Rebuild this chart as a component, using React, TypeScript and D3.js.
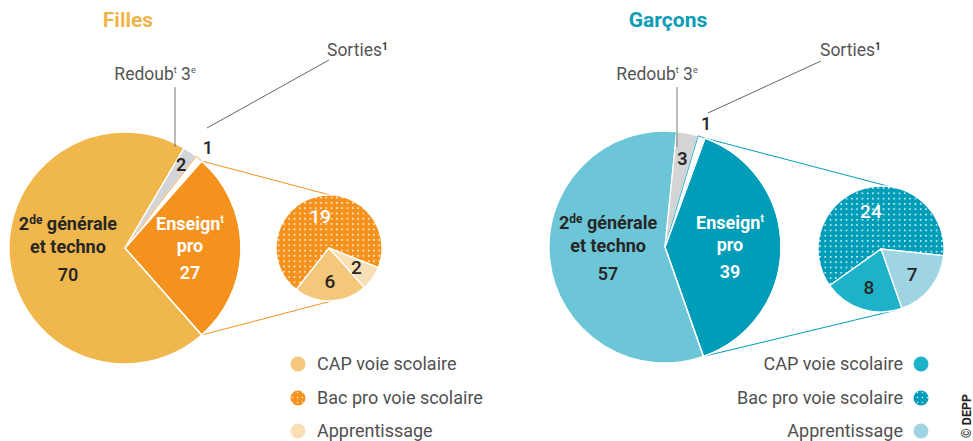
import React from "react";
import * as d3 from "d3";

const mainCats = ["2de générale et techno", "Redoublement 3e", "Sorties", "Enseignement pro"];
const fillesMain = [70, 2, 1, 27];
const garconsMain = [57, 3, 1, 39];
const subCats = ["Bac pro voie scolaire", "Apprentissage", "CAP voie scolaire"];
const fillesSub = [19, 2, 6];
const garconsSub = [24, 7, 8];
const legendLabels = ["CAP voie scolaire", "Bac pro voie scolaire", "Apprentissage"];

const FONT = "Roboto, 'Noto Sans', sans-serif";
const deg = (d: number) => (d * Math.PI) / 180;
const polar = (cx: number, cy: number, r: number, a: number): [number, number] => [
  cx + r * Math.sin(a),
  cy - r * Math.cos(a),
];

type Cfg = {
  id: string;
  title: string;
  titleX: number;
  titleColor: string;
  main: number[];
  sub: number[];
  cx: number;
  cy: number;
  r: number;
  start: number;
  scx: number;
  scy: number;
  sr: number;
  sstart: number;
  lineTop: number;
  lineBot: number;
  mainColors: string[];
  subColors: string[];
  redoubX: number;
  redoubLine: [number, number, number];
  sortiesX: number;
  sortiesLine: [number, number, number, number];
  grayR: number;
  legendAlign: "left" | "right";
  legendX: number;
};

function Panel({ c }: { c: Cfg }) {
  const pie = d3
    .pie<number>()
    .sort(null)
    .value((d) => d)
    .startAngle(deg(c.start))
    .endAngle(deg(c.start) + 2 * Math.PI);
  const arcs = pie(c.main);
  const arc = d3.arc<d3.PieArcDatum<number>>().innerRadius(0).outerRadius(c.r);
  const spie = d3
    .pie<number>()
    .sort(null)
    .value((d) => d)
    .startAngle(deg(c.sstart))
    .endAngle(deg(c.sstart) + 2 * Math.PI);
  const sarcs = spie(c.sub);
  const sarc = d3.arc<d3.PieArcDatum<number>>().innerRadius(0).outerRadius(c.sr);
  const pro = arcs[3];
  const p1 = polar(c.cx, c.cy, c.r, pro.startAngle);
  const p2 = polar(c.cx, c.cy, c.r, pro.endAngle);
  const q1 = polar(c.scx, c.scy, c.sr, deg(c.lineTop));
  const q2 = polar(c.scx, c.scy, c.sr, deg(c.lineBot));
  const mid = (a: d3.PieArcDatum<number>) => (a.startAngle + a.endAngle) / 2;

  const gen = arcs[0];
  const [gx0, gy] = polar(c.cx, c.cy, c.r * 0.52, mid(gen));
  const gx = gx0 + 3;
  const [px, py] = polar(c.cx, c.cy, c.r * 0.56, mid(pro));
  const [rx, ry] = polar(c.cx, c.cy, c.grayR, mid(arcs[1]));
  const [sx, sy] = polar(c.cx, c.cy, c.r * 1.12, mid(arcs[2]));
  const dark = "#262626";
  const legColors = [c.subColors[2], c.subColors[0], c.subColors[1]];
  const legY = [364, 398, 431];

  return (
    <g>
      <defs>
        <pattern id={"dots" + c.id} width={5.3} height={5.3} patternUnits="userSpaceOnUse">
          <rect width={5.3} height={5.3} fill={c.subColors[0]} />
          <rect x={1.8} y={1.8} width={1.5} height={1.5} fill="#fff" />
        </pattern>
        <pattern id={"ldots" + c.id} width={5} height={5} patternUnits="userSpaceOnUse">
          <rect width={5} height={5} fill={c.subColors[0]} />
          <rect x={1.8} y={1.8} width={1.4} height={1.4} fill="#fff" opacity={0.8} />
        </pattern>
      </defs>
      <text x={c.titleX} y={27} textAnchor="middle" fontFamily={FONT} fontWeight={700} fontSize={21} fill={c.titleColor}>
        {c.title}
      </text>
      {/* connector lines */}
      <line x1={p1[0]} y1={p1[1]} x2={q1[0]} y2={q1[1]} stroke={c.mainColors[3]} strokeWidth={1} />
      <line x1={p2[0]} y1={p2[1]} x2={q2[0]} y2={q2[1]} stroke={c.mainColors[3]} strokeWidth={1} />
      {/* main pie */}
      <g transform={`translate(${c.cx},${c.cy})`}>
        {arcs.map((a, i) => (
          <path
            key={mainCats[i]}
            d={arc(a) || ""}
            fill={c.mainColors[i]}
            stroke={i === 2 ? c.mainColors[3] : "#fff"}
            strokeWidth={i === 2 ? 0.8 : 1.3}
          />
        ))}
        <path d={arc(pro) || ""} fill="none" stroke="#fff" strokeWidth={1.3} />
      </g>
      {/* main labels */}
      <text fontFamily={FONT} fontWeight={700} fontSize={18} fill={dark} textAnchor="middle">
        <tspan x={gx} y={c.cy - 18}>
          2<tspan fontSize={12} dy={-6}>de</tspan>
          <tspan dy={6}> générale</tspan>
        </tspan>
        <tspan x={gx} y={c.cy + 5}>et techno</tspan>
        <tspan x={gx} y={c.cy + 33} fontWeight={600}>{c.main[0]}</tspan>
      </text>
      <text fontFamily={FONT} fontWeight={700} fontSize={18} fill="#fff" textAnchor="middle">
        <tspan x={px} y={py - 18}>
          Enseign<tspan fontSize={10} dy={-7}>t</tspan>
        </tspan>
        <tspan x={px} y={py + 4}>pro</tspan>
        <tspan x={px} y={py + 31} fontWeight={600}>{c.main[3]}</tspan>
      </text>
      <text x={rx} y={ry + 6} textAnchor="middle" fontFamily={FONT} fontWeight={600} fontSize={18} fill={dark}>
        {c.main[1]}
      </text>
      <text x={sx} y={sy + 6} textAnchor="middle" fontFamily={FONT} fontWeight={500} fontSize={18} fill={dark}>
        {c.main[2]}
      </text>
      {/* annotations */}
      <line x1={c.redoubLine[0]} y1={c.redoubLine[1]} x2={c.redoubLine[0]} y2={c.redoubLine[2]} stroke="#777" strokeWidth={1} />
      <text x={c.redoubX} y={80} textAnchor="middle" fontFamily={FONT} fontSize={17.5} fill="#555">
        Redoub<tspan fontSize={9} dy={-7}>t</tspan>
        <tspan dy={7}> 3</tspan>
        <tspan fontSize={9} dy={-7}>e</tspan>
      </text>
      <line
        x1={c.sortiesLine[0]}
        y1={c.sortiesLine[1]}
        x2={c.sortiesLine[2]}
        y2={c.sortiesLine[3]}
        stroke="#666"
        strokeWidth={1}
      />
      <text x={c.sortiesX} y={56} fontFamily={FONT} fontSize={17.5} fill="#555">
        Sorties<tspan fontSize={10} fontWeight={700} fill="#333" dy={-6}>1</tspan>
      </text>
      {/* sub pie */}
      <g transform={`translate(${c.scx},${c.scy})`}>
        {sarcs.map((a, i) => (
          <path
            key={subCats[i]}
            d={sarc(a) || ""}
            fill={i === 0 ? `url(#dots${c.id})` : c.subColors[i]}
            stroke="#fff"
            strokeWidth={1.3}
          />
        ))}
      </g>
      {sarcs.map((a, i) => {
        const [lx, ly] = polar(c.scx, c.scy, c.sr * 0.63, mid(a));
        return (
          <text
            key={"l" + i}
            x={lx}
            y={ly + 7}
            textAnchor="middle"
            fontFamily={FONT}
            fontWeight={500}
            fontSize={19}
            fill={i === 0 ? "#fff" : dark}
          >
            {c.sub[i]}
          </text>
        );
      })}
      {/* legend */}
      {legendLabels.map((lab, i) => {
        const tx = c.legendAlign === "left" ? c.legendX + 19 : c.legendX - 18;
        return (
          <g key={lab}>
            <circle cx={c.legendX} cy={legY[i]} r={7.5} fill={i === 1 ? `url(#ldots${c.id})` : legColors[i]} />
            <text
              x={tx}
              y={legY[i] + 6}
              textAnchor={c.legendAlign === "left" ? "start" : "end"}
              fontFamily={FONT}
              fontSize={18}
              fill="#505050"
            >
              {lab}
            </text>
          </g>
        );
      })}
    </g>
  );
}

const filles: Cfg = {
  id: "f",
  title: "Filles",
  titleX: 128,
  titleColor: "#f0b54a",
  main: fillesMain,
  sub: fillesSub,
  cx: 125,
  cy: 248,
  r: 116,
  start: 138.6,
  scx: 329,
  scy: 248,
  sr: 53,
  sstart: -141.7,
  lineTop: 1,
  lineBot: 177,
  mainColors: ["#f0b74c", "#d3d4d5", "#ffffff", "#f5921e"],
  subColors: ["#f5921e", "#f9dfb6", "#f4c77a"],
  redoubX: 155,
  redoubLine: [175, 87, 147],
  sortiesX: 327,
  sortiesLine: [207, 128, 329, 60],
  grayR: 100,
  legendAlign: "left",
  legendX: 298,
};

const garcons: Cfg = {
  id: "g",
  title: "Garçons",
  titleX: 668,
  titleColor: "#0a9cb7",
  main: garconsMain,
  sub: garconsSub,
  cx: 665,
  cy: 247,
  r: 116,
  start: 160.6,
  scx: 881,
  scy: 249,
  sr: 63,
  sstart: -125.5,
  lineTop: 8,
  lineBot: 166,
  mainColors: ["#6dc6d8", "#d3d4d5", "#ffffff", "#009db9"],
  subColors: ["#009db9", "#9fd5e3", "#1db2ca"],
  redoubX: 657,
  redoubLine: [677, 87, 147],
  sortiesX: 820,
  sortiesLine: [708, 113, 821, 61],
  grayR: 90,
  legendAlign: "right",
  legendX: 921,
};

export default function App() {
  return (
    <svg
      width={973}
      height={441}
      style={{ position: "absolute", left: 0, top: 0, background: "#fff" }}
      viewBox="0 0 973 441"
    >
      <rect width={973} height={441} fill="#fff" />
      <Panel c={filles} />
      <Panel c={garcons} />
      <text
        transform="translate(971,416) rotate(-90)"
        textAnchor="middle"
        fontFamily={FONT}
        fontWeight={700}
        fontSize={12.5}
        fill="#222"
      >
        © DEPP
      </text>
    </svg>
  );
}
